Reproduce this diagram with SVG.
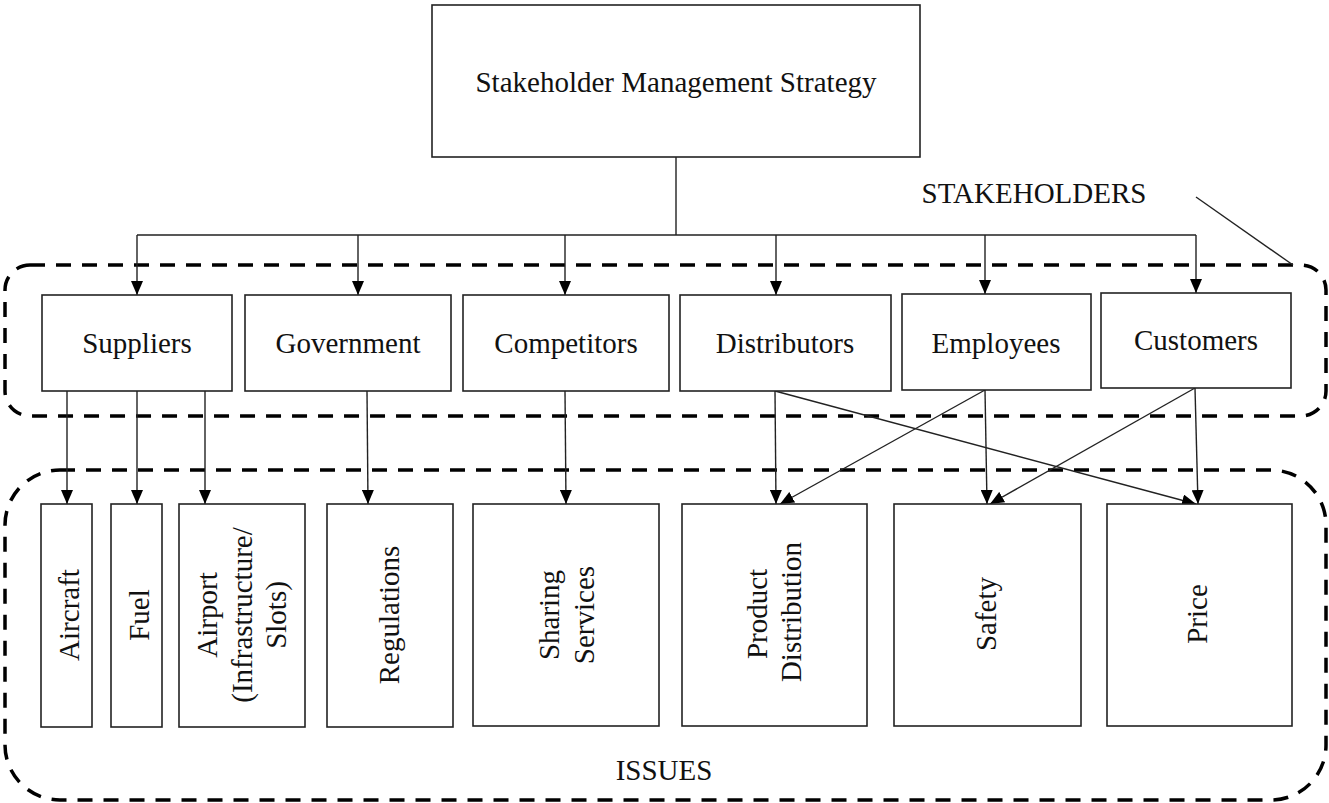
<svg xmlns="http://www.w3.org/2000/svg" width="1329" height="803" viewBox="0 0 1329 803">
<style>
  .box { fill: #fff; stroke: #222; stroke-width: 1.6; }
  .dash { fill: none; stroke: #000; stroke-width: 3.5; stroke-dasharray: 15 11; }
  .lbl { font-family: "Liberation Serif", "Times New Roman", serif; font-size: 29px; fill: #111; text-anchor: middle; }
  .con { fill: none; stroke: #222; stroke-width: 1.4; }
  .arr { fill: none; stroke: #222; stroke-width: 1.4; marker-end: url(#ah); }
</style>
<defs>
  <marker id="ah" viewBox="0 0 14 12" refX="14" refY="6" markerWidth="14" markerHeight="12" markerUnits="userSpaceOnUse" orient="auto">
    <path d="M0,0 L14,6 L0,12 z" fill="#000"/>
  </marker>
</defs>
<rect width="1329" height="803" fill="#fff"/>

<g id="group-stakeholders">
  <rect class="dash" x="5" y="265" width="1321" height="151" rx="25" ry="25"/>
</g>
<g id="group-issues">
  <rect class="dash" x="5" y="470" width="1321" height="330" rx="55" ry="55"/>
</g>

<g id="connectors">
  <path class="con" d="M676,157 V235 M137,235 H1196"/>
  <path class="arr" d="M137,235 V295"/>
  <path class="arr" d="M358,235 V295"/>
  <path class="arr" d="M565,235 V295"/>
  <path class="arr" d="M776,235 V295"/>
  <path class="arr" d="M985,235 V294"/>
  <path class="arr" d="M1196,235 V293"/>
  <path class="con" d="M1196,197 L1293,265"/>
  <path class="arr" d="M67,391 V504"/>
  <path class="arr" d="M137,391 V504"/>
  <path class="arr" d="M205,391 V504"/>
  <path class="arr" d="M367,391 L368,504"/>
  <path class="arr" d="M565,391 L566,504"/>
  <path class="arr" d="M775,391 L776,504"/>
  <path class="arr" d="M775,391 L1196,504"/>
  <path class="arr" d="M985,390 L987,504"/>
  <path class="arr" d="M985,390 L780,504"/>
  <path class="arr" d="M1195,388 L1198,504"/>
  <path class="arr" d="M1195,388 L990,504"/>
</g>

<g id="node-strategy">
  <rect class="box" x="432" y="5" width="488" height="152"/>
  <text class="lbl" x="676" y="92">Stakeholder Management Strategy</text>
</g>

<g id="label-stakeholders"><text class="lbl" x="1034" y="203">STAKEHOLDERS</text></g>
<g id="label-issues"><text class="lbl" x="664" y="780">ISSUES</text></g>

<g id="node-suppliers">
  <rect class="box" x="42" y="295" width="190" height="96"/>
  <text class="lbl" x="137" y="353">Suppliers</text>
</g>
<g id="node-government">
  <rect class="box" x="245" y="295" width="206" height="96"/>
  <text class="lbl" x="348" y="353">Government</text>
</g>
<g id="node-competitors">
  <rect class="box" x="463" y="295" width="206" height="96"/>
  <text class="lbl" x="566" y="353">Competitors</text>
</g>
<g id="node-distributors">
  <rect class="box" x="680" y="295" width="211" height="96"/>
  <text class="lbl" x="785" y="353">Distributors</text>
</g>
<g id="node-employees">
  <rect class="box" x="902" y="294" width="189" height="96"/>
  <text class="lbl" x="996" y="353">Employees</text>
</g>
<g id="node-customers">
  <rect class="box" x="1101" y="293" width="190" height="95"/>
  <text class="lbl" x="1196" y="350">Customers</text>
</g>

<g id="node-aircraft">
  <rect class="box" x="41" y="504" width="51" height="223"/>
  <text class="lbl" transform="translate(79,615) rotate(-90)">Aircraft</text>
</g>
<g id="node-fuel">
  <rect class="box" x="111" y="504" width="51" height="223"/>
  <text class="lbl" transform="translate(149,615) rotate(-90)">Fuel</text>
</g>
<g id="node-airport">
  <rect class="box" x="179" y="504" width="126" height="223"/>
  <text class="lbl" transform="translate(217,615) rotate(-90)">Airport</text>
  <text class="lbl" transform="translate(252,615) rotate(-90)">(Infrastructure/</text>
  <text class="lbl" transform="translate(286,615) rotate(-90)">Slots)</text>
</g>
<g id="node-regulations">
  <rect class="box" x="327" y="504" width="126" height="223"/>
  <text class="lbl" transform="translate(399,615) rotate(-90)">Regulations</text>
</g>
<g id="node-sharing">
  <rect class="box" x="473" y="504" width="186" height="222"/>
  <text class="lbl" transform="translate(559,615) rotate(-90)">Sharing</text>
  <text class="lbl" transform="translate(594,615) rotate(-90)">Services</text>
</g>
<g id="node-product">
  <rect class="box" x="682" y="504" width="185" height="222"/>
  <text class="lbl" transform="translate(767,614) rotate(-90)">Product</text>
  <text class="lbl" transform="translate(801,612) rotate(-90)">Distribution</text>
</g>
<g id="node-safety">
  <rect class="box" x="894" y="504" width="187" height="222"/>
  <text class="lbl" transform="translate(996,614) rotate(-90)">Safety</text>
</g>
<g id="node-price">
  <rect class="box" x="1107" y="504" width="185" height="222"/>
  <text class="lbl" transform="translate(1207,614) rotate(-90)">Price</text>
</g>
</svg>
